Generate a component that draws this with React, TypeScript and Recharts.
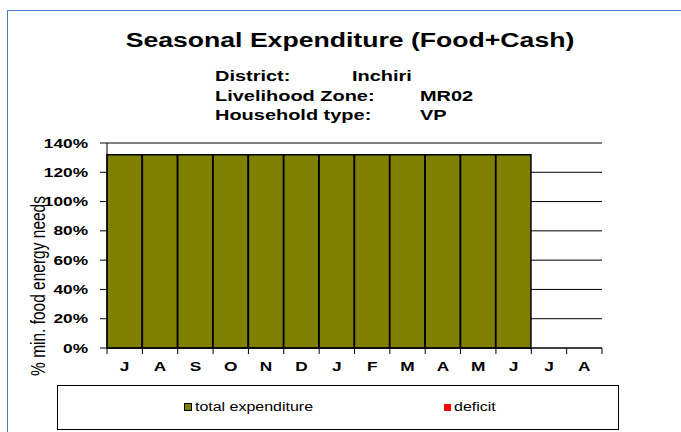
import { BarChart, Bar, XAxis, YAxis, CartesianGrid } from 'recharts'

const months = ['J', 'A', 'S', 'O', 'N', 'D', 'J', 'F', 'M', 'A', 'M', 'J', 'J', 'A']
const totalExpenditure = [132, 132, 132, 132, 132, 132, 132, 132, 132, 132, 132, 132, null, null]
const deficit = [0, 0, 0, 0, 0, 0, 0, 0, 0, 0, 0, 0, null, null]
const yTicks = [0, 20, 40, 60, 80, 100, 120, 140]

const seriesNames = { total: 'total expenditure', deficit: 'deficit' }
const infoRows = [
  ['District:', 'Inchiri', 352],
  ['Livelihood Zone:', 'MR02', 420],
  ['Household type:', 'VP', 420],
] as const

const W = 681
const H = 432
const PLOT_LEFT = 107
const PLOT_RIGHT = 602
const PLOT_TOP = 143
const PLOT_BOTTOM = 348
const BAND = (PLOT_RIGHT - PLOT_LEFT) / months.length
const FONT = '"Liberation Sans", Arial, sans-serif'
const OLIVE = '#808000'
// the original render is stretched sideways
const SX = 1.33

const data = months.map((m, i) => ({
  month: m,
  total: totalExpenditure[i],
  deficit: deficit[i],
}))

function MonthTick(props: any) {
  const { x, payload, index } = props
  return (
    <g>
      <line x1={x - BAND / 2} x2={x - BAND / 2} y1={PLOT_BOTTOM} y2={PLOT_BOTTOM + 6} stroke="#000" />
      {index === months.length - 1 && (
        <line x1={x + BAND / 2} x2={x + BAND / 2} y1={PLOT_BOTTOM} y2={PLOT_BOTTOM + 6} stroke="#000" />
      )}
      <text
        transform={`translate(${x} ${PLOT_BOTTOM + 23}) scale(${SX} 1)`}
        textAnchor="middle"
        fontSize={13}
        fontWeight="bold"
        fontFamily={FONT}
        fill="#000"
      >
        {payload.value}
      </text>
    </g>
  )
}

function PercentTick(props: any) {
  const { x, y, payload } = props
  return (
    <text
      transform={`translate(${x} ${y + 4.5}) scale(${SX} 1)`}
      textAnchor="end"
      fontSize={13}
      fontWeight="bold"
      fontFamily={FONT}
      fill="#000"
    >
      {`${payload.value}%`}
    </text>
  )
}

function YLabel() {
  return (
    <text
      transform={`translate(45 286) scale(${SX} 1) rotate(-90)`}
      textAnchor="middle"
      fontSize={15.5}
      fontFamily={FONT}
      fill="#000"
    >
      % min. food energy needs
    </text>
  )
}

const stretch = (origin: string) => ({ transform: `scaleX(${SX})`, transformOrigin: origin })

export default function App() {
  return (
    <div style={{ position: 'absolute', left: 0, top: 0, width: W, height: H, background: '#fff', overflow: 'hidden', fontFamily: FONT }}>
      <div style={{ position: 'absolute', left: 7, top: 10, width: W, height: H, borderLeft: '1px solid #4a7ebb', borderTop: '1px solid #4a7ebb' }} />
      <div style={{ position: 'absolute', left: 0, width: 700, top: 29, textAlign: 'center', fontSize: 20, fontWeight: 'bold', ...stretch('350px 50%') }}>
        Seasonal Expenditure (Food+Cash)
      </div>
      {infoRows.map(([k, v, vx], i) => (
        <div key={k} style={{ position: 'absolute', top: 67 + i * 19.5, fontSize: 15, fontWeight: 'bold', lineHeight: '17px' }}>
          <span style={{ position: 'absolute', left: 215, whiteSpace: 'nowrap', ...stretch('0 50%') }}>{k}</span>
          <span style={{ position: 'absolute', left: vx, whiteSpace: 'nowrap', ...stretch('0 50%') }}>{v}</span>
        </div>
      ))}
      <BarChart
        width={W}
        height={H}
        data={data}
        margin={{ top: PLOT_TOP, right: W - PLOT_RIGHT, bottom: 54, left: 12 }}
        barCategoryGap={0}
        barGap={0}
        style={{ position: 'absolute', left: 0, top: 0 }}
      >
        <CartesianGrid horizontal vertical={false} stroke="#000" strokeWidth={1} />
        <XAxis
          dataKey="month"
          height={30}
          axisLine={{ stroke: '#000' }}
          tickLine={false}
          tick={<MonthTick />}
          interval={0}
        />
        <YAxis
          width={95}
          domain={[0, 140]}
          ticks={yTicks}
          axisLine={{ stroke: '#000' }}
          tickLine={{ stroke: '#000' }}
          tickSize={7}
          tickMargin={12}
          tick={<PercentTick />}
          label={<YLabel />}
        />
        <YAxis yAxisId="r" orientation="right" width={0} tick={false} tickLine={false} axisLine={{ stroke: '#808080' }} domain={[0, 140]} />
        <Bar dataKey="total" stackId="s" fill={OLIVE} stroke="#000" strokeWidth={1.5} isAnimationActive={false} />
        <Bar dataKey="deficit" stackId="s" fill="#ff0000" isAnimationActive={false} />
      </BarChart>
      <div style={{ position: 'absolute', left: 57, top: 385, width: 562, height: 45, border: '1px solid #000', boxSizing: 'border-box', fontSize: 12 }}>
        <div style={{ position: 'absolute', left: 126, top: 14, display: 'flex', alignItems: 'center', whiteSpace: 'nowrap' }}>
          <span style={{ width: 6, height: 6, background: OLIVE, border: '1px solid #000', marginRight: 3 }} />
          <span style={stretch('0 50%')}>{seriesNames.total}</span>
        </div>
        <div style={{ position: 'absolute', left: 386, top: 14, display: 'flex', alignItems: 'center', whiteSpace: 'nowrap' }}>
          <span style={{ width: 7, height: 7, background: '#ff0000', marginRight: 3 }} />
          <span style={stretch('0 50%')}>{seriesNames.deficit}</span>
        </div>
      </div>
    </div>
  )
}
